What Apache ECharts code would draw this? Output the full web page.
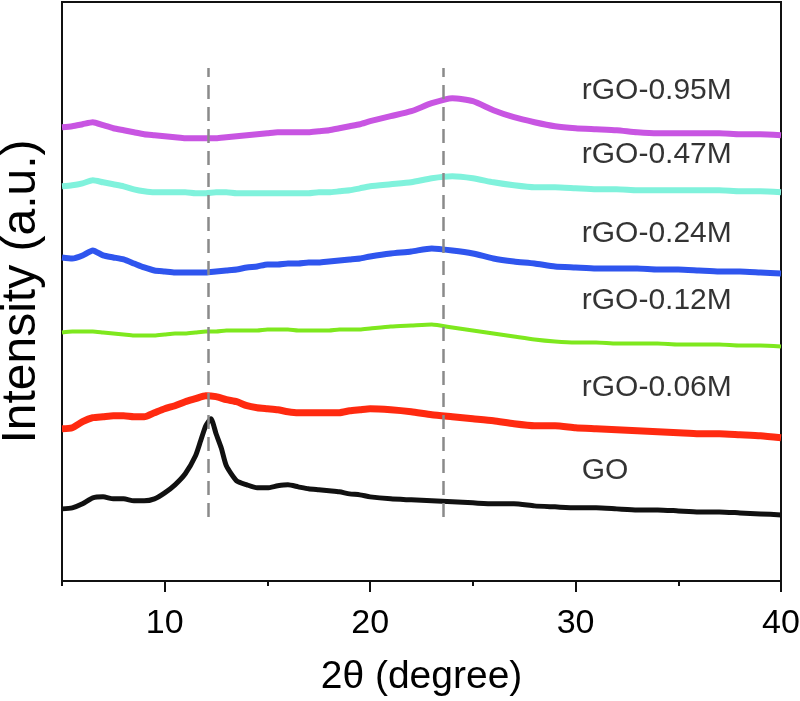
<!DOCTYPE html>
<html>
<head>
<meta charset="utf-8">
<script src="https://cdn.jsdelivr.net/npm/echarts@6/dist/echarts.min.js"></script>
<style>
html,body{margin:0;padding:0;background:#fff;}
#chart{width:800px;height:701px;}
</style>
</head>
<body>
<div id="chart"></div>
<script>
// 2θ sample positions shared by the rGO patterns
const twoTheta = [5,5.5,6,6.5,7,7.5,8,8.5,9,9.5,10,10.5,11,11.5,12,12.5,13,13.5,14,14.5,15,15.5,16,16.5,17,17.5,18,18.5,19,19.5,20,21,22,23,24,25,26,27,28,29,30,31,32,33,34,35,36,37,38,39,40];
// 2θ sample positions for GO (denser around the 12° peak)
const goTheta = [5,5.5,6,6.5,7,7.5,8,8.5,9,9.5,10,10.5,11,11.5,11.75,12,12.25,12.5,12.75,13,13.5,14,14.5,15,15.5,16,16.5,17,17.5,18,18.5,19,19.5,20,21,22,23,24,25,26,27,28,29,30,31,32,33,34,35,36,37,38,39,40];

// intensities (a.u., with vertical offsets as plotted)
const goValues = [72,73,77,83,84,82,82,80,80,82,88,96,107,125,140,155,162,147,133,115,100,96,93,93,95,96,94,92,91,90,89,87,86,84,82,81,80,79,78,77,77,75,74,73,73,72,71,71,70,69,69,68,67,66];
const rgo006 = [152,153,159,163,164,165,165,164,164,168,172,175,179,182,185,184,181,179,175,173,172,171,169,168,168,168,168,168,170,171,172,171,169,166,164,162,160,157,155,155,153,152,151,150,149,148,147,147,146,145,143];
const rgo012 = [248,249,249,249,248,247,246,245,245,245,246,247,247,248,249,249,250,250,250,250,251,251,251,250,250,250,250,251,251,251,252,254,255,256,253,250,247,244,241,239,238,238,237,237,237,236,236,236,235,235,234];
const rgo024 = [323,322,325,330,325,323,321,317,313,310,309,308,308,308,308,309,310,311,313,314,316,316,317,317,318,318,319,320,321,322,324,327,329,332,330,327,322,319,317,314,313,312,312,312,311,311,310,309,309,308,307];
const rgo047 = [394,395,397,400,398,396,394,391,389,388,388,388,388,387,387,388,388,387,387,387,387,387,387,387,387,388,388,389,390,392,394,396,398,402,404,402,398,395,393,393,392,391,391,390,390,390,390,390,389,389,388];
const rgo095 = [453,454,456,458,455,452,450,448,446,445,444,443,442,442,442,442,443,444,445,446,447,448,448,448,448,449,450,452,454,456,459,464,469,477,482,479,470,463,458,454,452,451,450,448,447,447,447,447,446,446,445];

const seriesNames = ['GO','rGO-0.06M','rGO-0.12M','rGO-0.24M','rGO-0.47M','rGO-0.95M'];
const seriesColors = ['#111111','#ff2a10','#7ee81e','#2f55ee','#80f2dc','#c855e2'];
const seriesWidths = [5,7,4,6,6,6];
// label anchors (2θ, intensity) for sample names
const labelTheta = [30.3,30.3,30.3,30.3,30.3,30.3];
const labelLevel = [110,193,280,347,426,489];
// reference dashed lines
const dashTheta = [12.1,23.55];
const dashRange = [64,512];
// x-axis ticks
const majorTicks = [10,20,30,40];
const minorTicks = [5,15,25,35];

function pairs(xs, ys){ return xs.map((x,i)=>[x, ys[i]]); }
const allValues = [goValues, rgo006, rgo012, rgo024, rgo047, rgo095];

const chart = echarts.init(document.getElementById('chart'), null, {renderer:'canvas'});
const FONT = 'Liberation Sans, Arial, Helvetica, sans-serif';

const series = allValues.map((vals, i) => ({
  name: seriesNames[i],
  type: 'line',
  data: pairs(i === 0 ? goTheta : twoTheta, vals),
  showSymbol: false,
  symbol: 'none',
  smooth: 0.2,
  xAxisIndex: 0,
  yAxisIndex: 0,
  lineStyle: {color: seriesColors[i], width: seriesWidths[i], join: 'round'},
  silent: true,
  z: 3
}));

series.push({
  type: 'line',
  data: [],
  xAxisIndex: 0, yAxisIndex: 0,
  silent: true,
  markLine: {
    symbol: ['none','none'],
    silent: true,
    label: {show: false},
    lineStyle: {color: '#8a8a8a', type: [14,8], width: 2.5},
    data: dashTheta.map(t => [{coord:[t, dashRange[0]]},{coord:[t, dashRange[1]]}])
  },
  z: 2
});

series.push({
  type: 'scatter',
  data: labelTheta.map((t,i)=>({value:[t, labelLevel[i]], label:{formatter: seriesNames[i]}})),
  symbolSize: 0,
  silent: true,
  label: {
    show: true,
    position: 'right',
    distance: 0,
    color: '#000',
    fontFamily: FONT,
    fontSize: 30,
    align: 'left',
    verticalAlign: 'middle'
  }
});

chart.setOption({
  backgroundColor: '#ffffff',
  animation: false,
  grid: {left: 62, right: 19, top: 2, bottom: 120, containLabel: false, outerBoundsMode: 'none', show: true, borderColor: '#111', borderWidth: 2, backgroundColor: 'transparent'},
  xAxis: [{
    type: 'value', min: 5, max: 40, interval: 5,
    name: '2θ (degree)', nameLocation: 'middle', nameGap: 77,
    nameTextStyle: {fontFamily: FONT, fontSize: 39, color: '#000'},
    axisLine: {show: true, lineStyle: {color: '#111', width: 2}},
    axisTick: {show: true, customValues: majorTicks, length: 11, lineStyle: {color: '#111', width: 2}},
    axisLabel: {show: true, customValues: majorTicks, margin: 26, fontFamily: FONT, fontSize: 34, color: '#000'},
    splitLine: {show: false}
  },{
    type: 'value', min: 5, max: 40, interval: 5, position: 'bottom', gridIndex: 0,
    axisLine: {show: false},
    axisTick: {show: true, customValues: minorTicks, length: 5, lineStyle: {color: '#111', width: 2}},
    axisLabel: {show: false},
    splitLine: {show: false}
  }],
  yAxis: {
    type: 'value', min: 0, max: 578,
    name: 'Intensity (a.u.)', nameLocation: 'middle', nameGap: 16,
    nameTextStyle: {fontFamily: FONT, fontSize: 48, color: '#000'},
    axisLine: {show: true, lineStyle: {color: '#111', width: 2}},
    axisTick: {show: false},
    axisLabel: {show: false},
    splitLine: {show: false}
  },
  series: series
});
</script>
</body>
</html>
